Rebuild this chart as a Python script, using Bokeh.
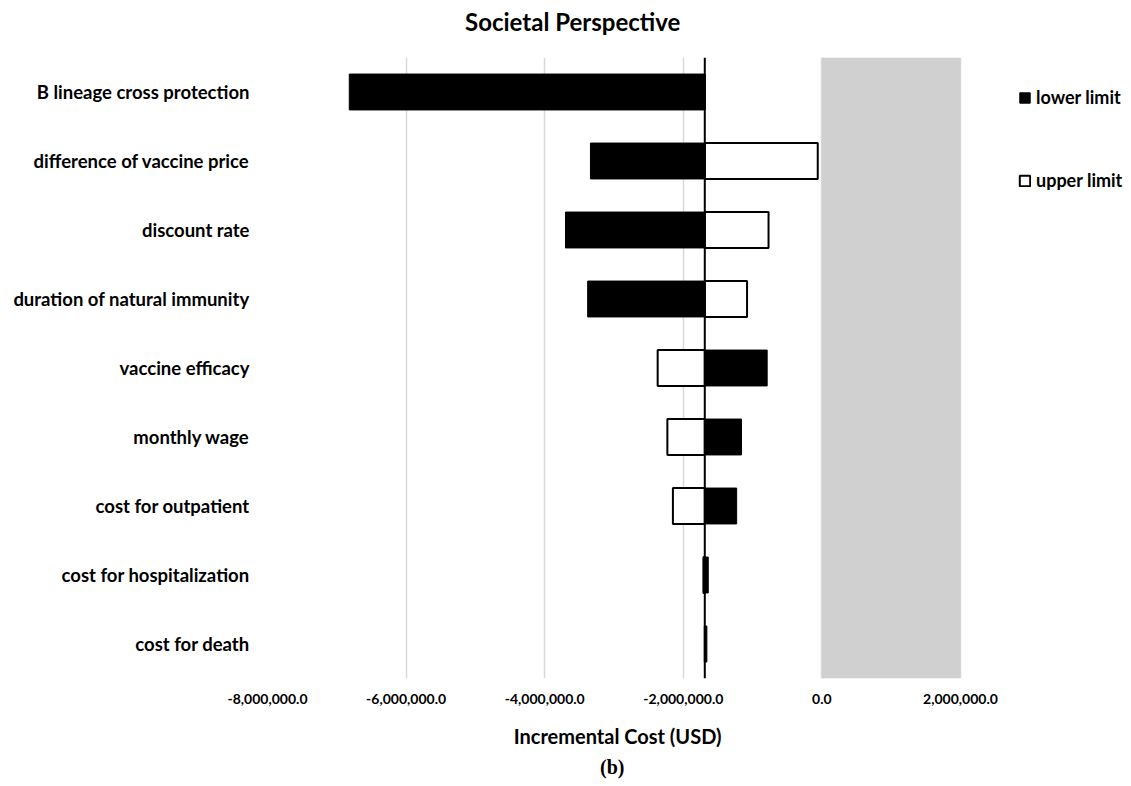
from bokeh.plotting import figure
from bokeh.layouts import column
from bokeh.models import (FactorRange, Range1d, Span, BoxAnnotation, Legend, LegendItem,
                          FixedTicker, NumeralTickFormatter, Title, Div)
from bokeh.embed import file_html
from bokeh.resources import INLINE

title_text = "Societal Perspective"
categories = [
    "B lineage cross protection",
    "difference of vaccine price",
    "discount rate",
    "duration of natural immunity",
    "vaccine efficacy",
    "monthly wage",
    "cost for outpatient",
    "cost for hospitalization",
    "cost for death",
]
base_value = -1690000
lower_limit = [-6820000, -3340000, -3700000, -3380000, -790000, -1160000, -1230000, -1640000, -1660000]
upper_limit = [-1690000, -60000, -770000, -1080000, -2370000, -2230000, -2150000, -1710000, -1690000]
x_ticks = [-8000000, -6000000, -4000000, -2000000, 0, 2000000]
shade_range = [0, 2000000]
x_view = [-8000000, 4352000]   # right part of the view holds the legend

FONT = "Lato"

header = Div(text=('<div style="margin:7px 0 0 465px; font-family:Lato; font-size:24px; '
                   'font-weight:bold; line-height:29px; white-space:nowrap; color:black">'
                   + title_text + '</div>'),
             width=1123, height=40, margin=0)

p = figure(width=1123, height=740,
           y_range=FactorRange(factors=list(reversed(categories))),
           x_range=Range1d(x_view[0], x_view[1]),
           output_backend="svg", toolbar_location=None,
           min_border_left=267, min_border_right=0,
           min_border_top=17, min_border_bottom=102)

p.add_layout(BoxAnnotation(left=shade_range[0], right=shade_range[1],
                           fill_color="#d0d0d0", fill_alpha=1.0,
                           line_color=None, level="underlay"))

r_up = p.hbar(y=categories, left=base_value, right=upper_limit, height=0.52,
              fill_color="white", line_color="black", line_width=2)
r_low = p.hbar(y=categories, left=base_value, right=lower_limit, height=0.52,
               fill_color="black", line_color="black", line_width=1)

p.add_layout(Span(location=base_value, dimension="height",
                  line_color="black", line_width=2))

p.xaxis.ticker = FixedTicker(ticks=x_ticks)
p.xaxis.formatter = NumeralTickFormatter(format="0,0.0")
p.xaxis.major_label_text_font = FONT
p.xaxis.major_label_text_font_size = "14px"
p.xaxis.major_label_text_font_style = "bold"
p.xaxis.major_label_text_color = "black"
p.xaxis.major_label_standoff = 15
p.xaxis.major_tick_out = 0
p.xaxis.major_tick_in = 0
p.xaxis.axis_line_color = None
p.xaxis.major_tick_line_color = None
p.xaxis.minor_tick_line_color = None
# blank axis label used only as vertical spacing
p.xaxis.axis_label = " "
p.xaxis.axis_label_text_font_size = "8px"
p.xaxis.axis_label_standoff = 1

p.yaxis.major_label_text_font = FONT
p.yaxis.major_label_text_font_size = "18.5px"
p.yaxis.major_label_text_font_style = "bold"
p.yaxis.major_label_text_color = "black"
p.yaxis.major_label_standoff = 18
p.yaxis.major_tick_out = 0
p.yaxis.major_tick_in = 0
p.yaxis.axis_line_color = None
p.yaxis.major_tick_line_color = None

p.xgrid.grid_line_color = "#d9d9d9"
p.xgrid.grid_line_width = 1.5
p.ygrid.grid_line_color = None
p.outline_line_color = None

p.add_layout(Title(text="Incremental Cost (USD)", align="right", offset=402,
                   vertical_align="top", text_color="black",
                   text_font=FONT, text_font_size="20px", text_font_style="bold",
                   standoff=8), "below")
p.add_layout(Title(text="(b)", align="right", offset=499, text_font="Liberation Serif",
                   vertical_align="bottom", text_color="black",
                   text_font_size="20px", text_font_style="bold", standoff=0), "below")

legend = Legend(items=[LegendItem(label="lower limit", renderers=[r_low]),
                       LegendItem(label="upper limit", renderers=[r_up])],
                location=(751, 487), border_line_color=None, background_fill_alpha=0,
                label_text_font=FONT, label_text_font_size="18px", label_text_font_style="bold",
                label_text_color="black",
                glyph_width=13, glyph_height=13, label_height=22, spacing=61,
                padding=0, margin=0, label_standoff=5)
p.add_layout(legend)

layout = column(header, p, spacing=0)
open("out.html", "w").write(file_html(layout, INLINE))
